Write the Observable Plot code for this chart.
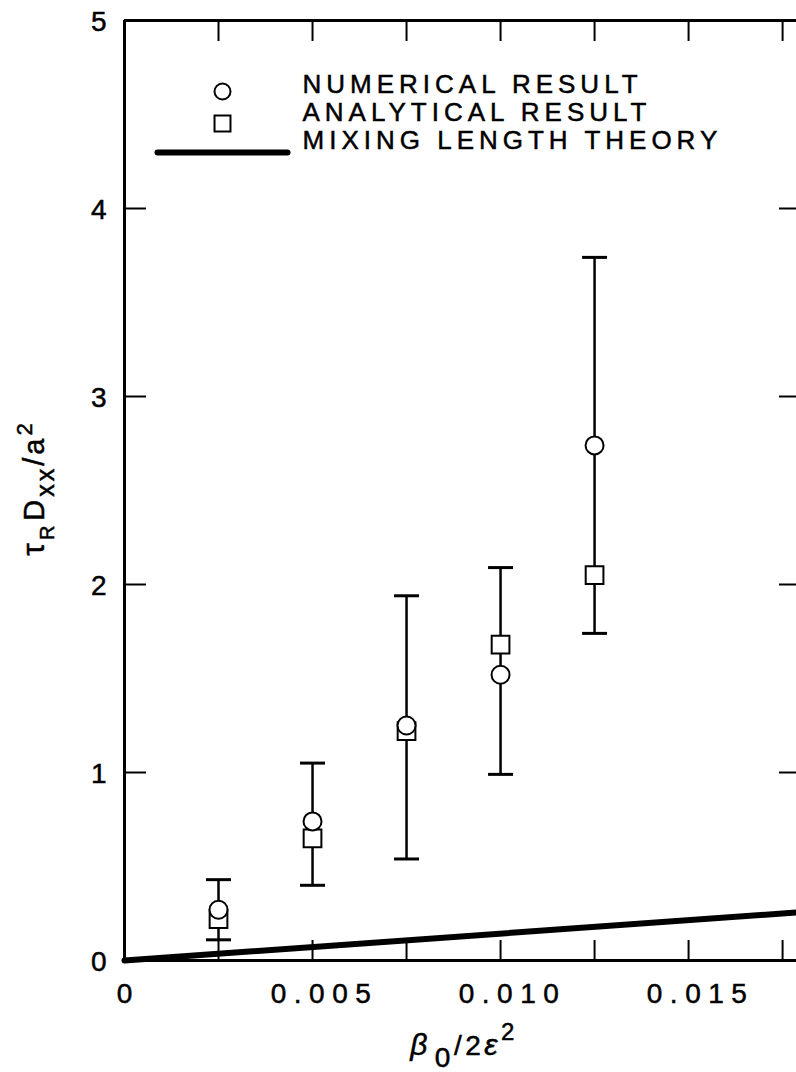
<!DOCTYPE html>
<html>
<head>
<meta charset="utf-8">
<script src="https://cdn.jsdelivr.net/npm/d3@7"></script>
<script src="https://cdn.jsdelivr.net/npm/@observablehq/plot@0.6"></script>
<style>
  body { margin: 0; background: #fff; }
  #chart svg { display: block; }
  #chart svg text { stroke: black; stroke-width: 0.5px; }
  g[aria-label="x-axis tick label"] text { letter-spacing: 7.5px; }
</style>
</head>
<body>
<div id="chart"></div>
<script>
// β0 / 2ε² sample positions
const beta = [0.0025, 0.005, 0.0075, 0.010, 0.0125];
// τR Dxx / a² values
const numerical = [0.27, 0.74, 1.25, 1.52, 2.74];
const analytical = [0.22, 0.65, 1.22, 1.68, 2.05];
const errLow = [0.11, 0.40, 0.54, 0.99, 1.74];
const errHigh = [0.43, 1.05, 1.94, 2.09, 3.74];

// mixing length theory (straight line through the origin)
const mixBeta = [0, 0.0179];
const mixValue = [0, 0.256];

// axis ticks
const xMinorTicks = [0.0025, 0.005, 0.0075, 0.010, 0.0125, 0.015, 0.0175];
const xLabelTicks = [0.005, 0.010, 0.015];
const yTicks = [0, 1, 2, 3, 4, 5];
const yInnerTicks = [1, 2, 3, 4];

const legendLabels = ["NUMERICAL RESULT", "ANALYTICAL RESULT", "MIXING LENGTH THEORY"];

const points = beta.map((b, i) => ({
  beta: b, numerical: numerical[i], analytical: analytical[i], lo: errLow[i], hi: errHigh[i]
}));
const mixing = mixBeta.map((b, i) => ({beta: b, value: mixValue[i]}));

// horizontal cap for the error bars
const capSymbol = {
  draw(ctx, size) {
    const w = Math.sqrt(size / Math.PI);
    ctx.moveTo(-w, 0);
    ctx.lineTo(w, 0);
  }
};
// plain stroke used for the legend line
const barShape = {
  draw(ctx, l) {
    ctx.moveTo(0, 0);
    ctx.lineTo(0, -l);
  }
};

// widen the letter spacing of a text mark
const spaced = (px) => (index, scales, values, dims, context, next) => {
  const g = next(index, scales, values, dims, context);
  d3.select(g).selectAll("text").style("letter-spacing", `${px}px`);
  return g;
};

const font = "'Liberation Sans', Arial, Helvetica, sans-serif";
const ink = "black";

const chart = Plot.plot({
  width: 796,
  height: 1072,
  marginLeft: 124,
  marginRight: 0,
  marginTop: 20,
  marginBottom: 112,
  x: {domain: [0, 0.01787]},
  y: {domain: [0, 5]},
  style: {fontFamily: font, fontSize: "27px", color: ink, background: "white"},
  marks: [
    // frame edges
    Plot.ruleX([0], {stroke: ink, strokeWidth: 3}),
    Plot.ruleY([0, 5], {stroke: ink, strokeWidth: 3}),

    // inward ticks on all four sides
    Plot.axisX({anchor: "bottom", ticks: xMinorTicks, tickSize: 20, dy: -20, tickFormat: () => "", label: null, strokeWidth: 2}),
    Plot.axisX({anchor: "top", ticks: xMinorTicks, tickSize: 20, dy: 20, tickFormat: () => "", label: null, strokeWidth: 2}),
    Plot.axisY({anchor: "left", ticks: yInnerTicks, tickSize: 22, dx: 22, tickFormat: () => "", label: null, strokeWidth: 2}),
    Plot.axisY({anchor: "right", ticks: yInnerTicks, tickSize: 18, dx: -18, tickFormat: () => "", label: null, strokeWidth: 2}),

    // tick labels
    Plot.axisX({anchor: "bottom", ticks: [0], tickSize: 0, tickPadding: 23, tickFormat: () => "0", label: null, fontSize: 28, dx: 3.75}),
    Plot.axisX({anchor: "bottom", ticks: xLabelTicks, tickSize: 0, tickPadding: 23, tickFormat: d3.format(".3f"), label: null, fontSize: 28, dx: 12}),
    Plot.axisY({anchor: "left", ticks: yTicks, tickSize: 0, tickPadding: 18, tickFormat: d => String(d), label: null, fontSize: 28, dy: 2}),

    // mixing length theory
    Plot.line(mixing, {x: "beta", y: "value", stroke: ink, strokeWidth: 6}),

    // error bars
    Plot.ruleX(points, {x: "beta", y1: "lo", y2: "hi", stroke: ink, strokeWidth: 2.5}),
    Plot.dot(points, {x: "beta", y: "hi", symbol: capSymbol, r: 12.5, stroke: ink, strokeWidth: 3, fill: "none"}),
    Plot.dot(points, {x: "beta", y: "lo", symbol: capSymbol, r: 12.5, stroke: ink, strokeWidth: 3, fill: "none"}),

    // analytical (squares) beneath numerical (circles)
    Plot.dot(points, {x: "beta", y: "analytical", symbol: "square", r: 10, stroke: ink, strokeWidth: 2, fill: "white"}),
    Plot.dot(points, {x: "beta", y: "numerical", symbol: "circle", r: 9, stroke: ink, strokeWidth: 2, fill: "white"}),

    // legend
    Plot.dot([0], {frameAnchor: "top-left", dx: 98, dy: 71, symbol: "circle", r: 8, stroke: ink, strokeWidth: 2, fill: "white"}),
    Plot.dot([0], {frameAnchor: "top-left", dx: 98, dy: 103, symbol: "square", r: 9, stroke: ink, strokeWidth: 2, fill: "white"}),
    Plot.vector([0], {frameAnchor: "top-left", dx: 33, dy: 132, length: 130, rotate: 90, anchor: "start", shape: barShape, stroke: ink, strokeWidth: 6}),
    ...legendLabels.map((label, i) => Plot.text([label], {
      frameAnchor: "top-left", dx: 178, dy: 64.5 + i * 28, text: d => d,
      textAnchor: "start", lineAnchor: "middle", fontSize: 26, fill: ink,
      render: spaced(5)
    }))
  ]
});

// axis titles with sub- and superscripts
const svg = d3.select(chart);

const yTitle = svg.append("text")
  .attr("transform", "translate(44,488) rotate(-90)")
  .attr("text-anchor", "middle")
  .attr("fill", ink)
  .attr("font-family", font)
  .attr("font-size", 29)
  .attr("letter-spacing", 3);
yTitle.append("tspan").attr("font-size", 32).text("τ");
yTitle.append("tspan").attr("font-size", 20).attr("dy", 10).text("R");
yTitle.append("tspan").attr("font-size", 29).attr("dy", -10).attr("dx", 2).text("D");
yTitle.append("tspan").attr("font-size", 25).attr("dy", 10).text("xx");
yTitle.append("tspan").attr("font-size", 29).attr("dy", -10).text("/a");
yTitle.append("tspan").attr("font-size", 22).attr("dy", -12).text("2");

const xTitle = svg.append("text")
  .attr("x", 464)
  .attr("y", 1055)
  .attr("text-anchor", "middle")
  .attr("fill", ink)
  .attr("font-family", font)
  .attr("font-size", 28)
  .attr("letter-spacing", 3.5);
xTitle.append("tspan").attr("font-size", 30).attr("font-style", "italic").text("β");
xTitle.append("tspan").attr("font-size", 28).attr("dy", 12).attr("dx", 4).text("0");
xTitle.append("tspan").attr("font-size", 28).attr("dy", -12).text("/2");
xTitle.append("tspan").attr("font-size", 30).attr("font-style", "italic").text("ε");
xTitle.append("tspan").attr("font-size", 24).attr("dy", -15).text("2");

document.getElementById("chart").append(chart);
</script>
</body>
</html>
